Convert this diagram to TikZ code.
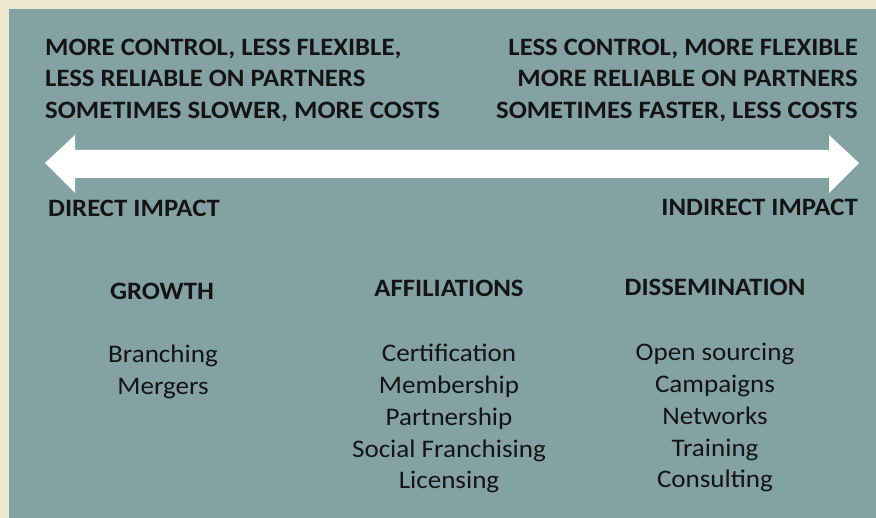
\documentclass[tikz,border=0pt]{standalone}
\usepackage{fontspec}
\setmainfont{Carlito}[FakeStretch = 1.07]
\usetikzlibrary{positioning}
\definecolor{panelgray}{HTML}{84A2A4}
\definecolor{framebeige}{HTML}{EDE6D0}
\definecolor{inkblack}{HTML}{141414}

\begin{document}
\begin{tikzpicture}[x = 1pt, y = -1pt,
  txt/.style = {inner sep = 0, text = inkblack, font = \fontsize{25.3}{31.5}\selectfont},
  bold/.style = {txt, font = \fontsize{25}{31.5}\selectfont\bfseries},
  item/.style = {txt, anchor = base}]
\useasboundingbox (0,0) rectangle (876,518);
\fill[framebeige] (0,0) rectangle (876,518);
\fill[panelgray] (9,9) rectangle (876,518);
% the double arrow
\fill[white] (45,163) -- (75,135) -- (75,150) -- (829,150) -- (829,135) -- (859,163)
  -- (829,193) -- (829,178) -- (75,178) -- (75,193) -- cycle;
% top texts
\node[bold, anchor = north west, align = left](ctrl) at (45,38.5){MORE CONTROL, LESS FLEXIBLE,\\LESS RELIABLE ON PARTNERS\\SOMETIMES SLOWER, MORE COSTS};
\node[bold, anchor = north east, align = right](flex) at (858,38.5){LESS CONTROL, MORE FLEXIBLE\\MORE RELIABLE ON PARTNERS\\SOMETIMES FASTER, LESS COSTS};
\node[bold, anchor = base west](direct) at (48,217){DIRECT IMPACT};
\node[bold, anchor = base east](indirect) at (858,216){INDIRECT IMPACT};
% headings
\node[bold, anchor = base](growth) at (162,300){GROWTH};
\node[bold, anchor = base](affil) at (449,297){AFFILIATIONS};
\node[bold, anchor = base](dissem) at (715,296){DISSEMINATION};
% lists
\foreach \t [count = \i] in {Branching, Mergers}
  \node[item](gro\i) at (163, 331 + 32*\i){\t};
\foreach \t [count = \i] in {Certification, Membership, Partnership, Social Franchising, Licensing}
  \node[item](aff\i) at (449, 330 + 31.8*\i){\t};
\foreach \t [count = \i] in {Open sourcing, Campaigns, Networks, Training, Consulting}
  \node[item](dis\i) at (715, 329 + 31.8*\i){\t};
\end{tikzpicture}
\end{document}
